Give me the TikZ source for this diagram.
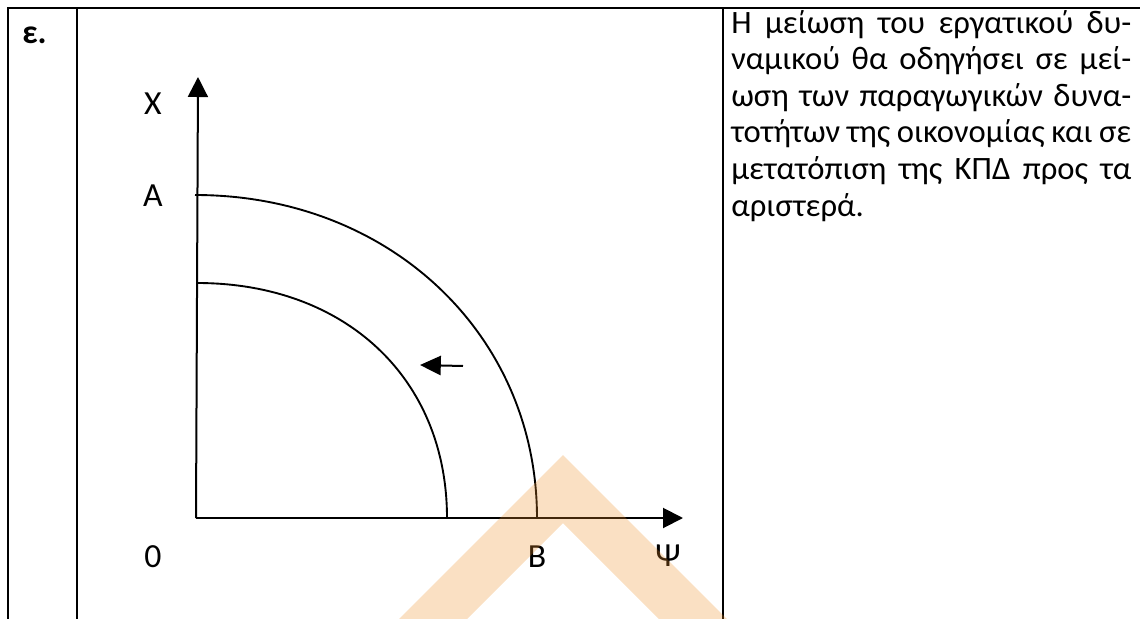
\documentclass[tikz,border=0pt]{standalone}
\usepackage{fontspec}
\setmainfont{Carlito}
\usetikzlibrary{arrows.meta}
\definecolor{markOrange}{RGB}{236,142,40}

\begin{document}
\begin{tikzpicture}[x=0.025cm, y=-0.025cm,
    tablerule/.style={line width=0.065cm, line cap=rect},
    axisline/.style={line width=0.05cm, -{Triangle[length=0.5cm,width=0.5cm]}},
    ppf/.style={line width=0.047cm},
    leftshift/.style={line width=0.05cm, -{Triangle[length=0.52cm,width=0.48cm]}},
    lbl/.style={anchor=base, inner sep=0pt, font=\fontsize{24}{28}\selectfont},
    body/.style={anchor=base west, inner sep=0pt, font=\fontsize{23.2}{26}\selectfont}
  ]
    \useasboundingbox (0,0) rectangle (1140,619);
    % table rules
    \draw[tablerule] (8,640) -- (8,8) -- (1150,8);
    \draw[tablerule] (77,8) -- (77,640);
    \draw[tablerule] (723,8) -- (723,640);
    \node[body, font=\fontsize{24}{26}\selectfont\bfseries] (item) at (22,43) {ε.};
    % axes
    \coordinate (O) at (196,518);
    \coordinate (Xtip) at (198,77);
    \coordinate (Ytip) at (683,518);
    \draw[axisline] (O) -- (Xtip);
    \draw[axisline] (O) -- (Ytip);
    \node[lbl] (X) at (153,114) {X};
    \node[lbl] (A) at (153,206) {A};
    \node[lbl] (zero) at (153,567) {0};
    \node[lbl] (B) at (537,567) {B};
    \node[lbl] (Psi) at (668,566) {Ψ};
    % production possibility curves
    \coordinate (ppfA) at (195,195);
    \coordinate (ppfB) at (537,518);
    \coordinate (newA) at (197,283);
    \coordinate (newB) at (447,518);
    \draw[ppf] (ppfA) .. controls (390,195) and (537,335) .. (ppfB);
    \draw[ppf] (newA) .. controls (345,283) and (447,378) .. (newB);
    \coordinate (s1) at (463,366);
    \coordinate (s2) at (420,365);
    \draw[leftshift] (s1) -- (s2);
    % explanation
    \foreach \t [count=\i from 0] in {Η μείωση του εργατικού δυ-, ναμικού θα οδηγήσει σε μεί-, ωση των παραγωγικών δυνα-, τοτήτων της οικονομίας και σε, μετατόπιση της ΚΠΔ προς τα}
      \node[body] (line\i) at (731,33+36.6*\i) {\makebox[10cm][s]{\t}};
    \node[body] (line5) at (731,216) {αριστερά.};
    % watermark
    \fill[markOrange, opacity=0.28] (388,630) -- (563,455) -- (738,630) -- (670,630) -- (563,523) -- (456,630) -- cycle;
\end{tikzpicture}
\end{document}
